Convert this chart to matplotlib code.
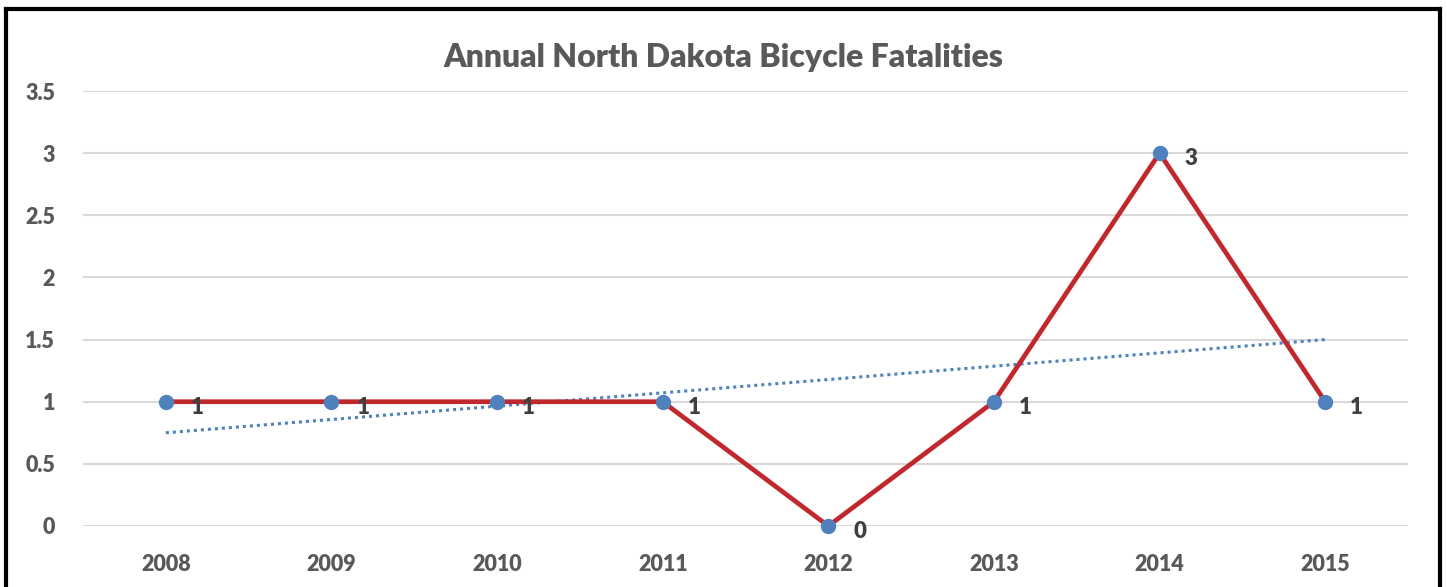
import numpy as np
import matplotlib
matplotlib.use("Agg")
import matplotlib.pyplot as plt
from matplotlib.lines import Line2D

years = ["2008", "2009", "2010", "2011", "2012", "2013", "2014", "2015"]
fatalities = [1, 1, 1, 1, 0, 1, 3, 1]
yticks = [0, 0.5, 1, 1.5, 2, 2.5, 3, 3.5]
ytick_labels = ["0", "0.5", "1", "1.5", "2", "2.5", "3", "3.5"]

plt.rcParams['font.family'] = ['Lato', 'DejaVu Sans']

fig = plt.figure(figsize=(14.47, 5.87), dpi=100)
ax = fig.add_axes([83 / 1447, 1 - 526 / 587, (1408 - 83) / 1447, (526 - 91) / 587])

x = np.arange(len(years))

# linear trend line (dotted)
coef = np.polyfit(x, fatalities, 1)
ax.plot(x, np.polyval(coef, x), linestyle=(0, (1, 1.3)), color="#4F81BD", lw=2.2, zorder=2)

ax.plot(x, fatalities, color="#C0282E", lw=3.4, zorder=3, clip_on=False,
        marker="o", markersize=10, markerfacecolor="#4F81BD", markeredgecolor="#4F81BD")

for xi, v in zip(x, fatalities):
    ax.annotate(str(v), (xi, v), xytext=(18, -4), textcoords="offset points",
                ha="left", va="center", fontsize=16, fontweight="heavy", color="#404040", zorder=4)

ax.set_xlim(-0.5, len(years) - 0.5)
ax.set_ylim(0, 3.5)
ax.set_yticks(yticks)
ax.set_yticklabels(ytick_labels)
ax.set_xticks(x)
ax.set_xticklabels(years)
ax.grid(axis="y", color="#D9D9D9", lw=1.5, zorder=0)
ax.set_axisbelow(True)
for s in ax.spines.values():
    s.set_visible(False)
ax.tick_params(length=0, labelsize=15.5, labelcolor="#595959")
ax.tick_params(axis="x", pad=20)
ax.tick_params(axis="y", pad=20)
for lab in ax.get_xticklabels() + ax.get_yticklabels():
    lab.set_fontweight("heavy")

fig.text(0.5, 1 - 58 / 587, "Annual North Dakota Bicycle Fatalities", ha="center", va="center",
         fontsize=23, fontweight="heavy", color="#595959")

# outer frame (bottom edge is cut off)
fx0, fx1 = 6 / 1447, 1440 / 1447
fy1 = 1 - 9 / 587
for xs, ys in [([fx0, fx0], [0, fy1]), ([fx0, fx1], [fy1, fy1]), ([fx1, fx1], [fy1, 0])]:
    fig.add_artist(Line2D(xs, ys, color="black", lw=3, transform=fig.transFigure))

fig.savefig("out.png", dpi=100)
